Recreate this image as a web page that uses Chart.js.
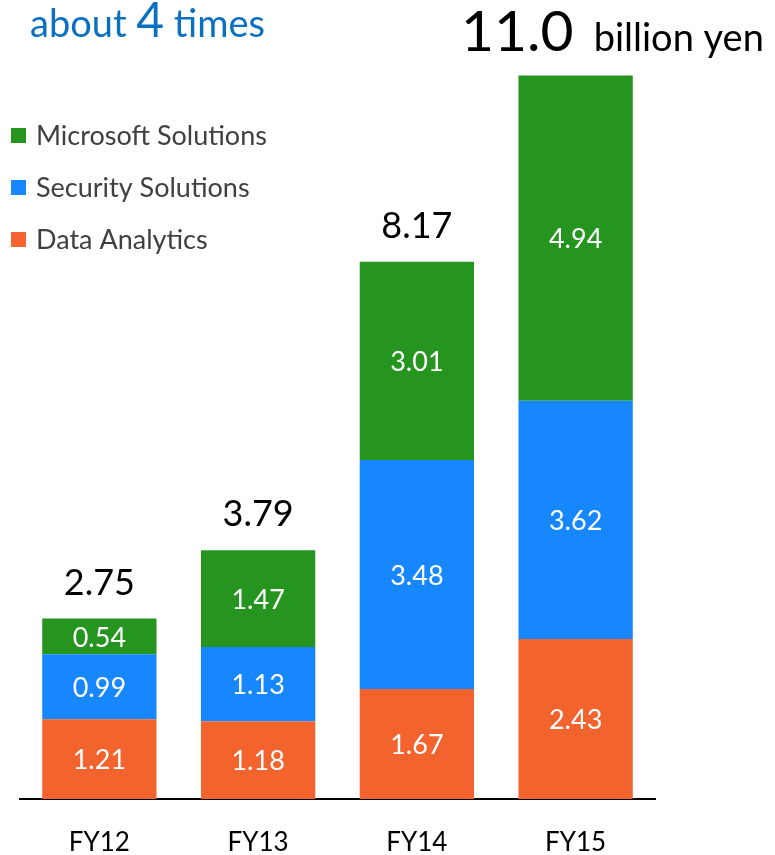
<!DOCTYPE html>
<html>
<head>
<meta charset="utf-8">
<script src="https://cdn.jsdelivr.net/npm/chart.js@4.4.0/dist/chart.umd.min.js"></script>
<style>
  html, body { margin: 0; padding: 0; background: #fff; }
  #wrap { width: 775px; height: 855px; }
</style>
</head>
<body>
<div id="wrap"><canvas id="salesChart" width="775" height="855"></canvas></div>
<script>
// sales by business, billion yen
var categories = ['FY12', 'FY13', 'FY14', 'FY15'];
var dataAnalytics = [1.21, 1.18, 1.67, 2.43];
var securitySolutions = [0.99, 1.13, 3.48, 3.62];
var microsoftSolutions = [0.54, 1.47, 3.01, 4.94];
var totalLabels = ['2.75', '3.79', '8.17', '11.0'];

var FONT = 'Lato, "Open Sans", sans-serif';

// white numbers inside each segment, totals above the stacks
var labelPlugin = {
    id: 'segmentLabels',
    afterDatasetsDraw: function(chart) {
        var ctx = chart.ctx;
        ctx.save();
        ctx.textAlign = 'center';
        ctx.textBaseline = 'alphabetic';
        chart.data.datasets.forEach(function(ds, i) {
            var meta = chart.getDatasetMeta(i);
            meta.data.forEach(function(bar, j) {
                var mid = (bar.y + bar.base) / 2;
                ctx.font = '27px ' + FONT;
                ctx.fillStyle = '#ffffff';
                ctx.fillText(ds.data[j].toFixed(2), bar.x, mid + 27 * 0.38);
            });
        });

        var top = chart.getDatasetMeta(chart.data.datasets.length - 1);
        top.data.forEach(function(bar, j) {
            var y = bar.y - 24;
            ctx.fillStyle = '#000000';
            if (j === top.data.length - 1) {
                ctx.textAlign = 'right';
                ctx.font = '57px ' + FONT;
                ctx.fillText(totalLabels[j], bar.x - 2, y);
                ctx.textAlign = 'left';
                ctx.font = '38px ' + FONT;
                ctx.fillText('billion yen', bar.x + 18, y);
                ctx.textAlign = 'center';
            } else {
                ctx.font = '36px ' + FONT;
                ctx.fillText(totalLabels[j], bar.x, y);
            }
        });
        ctx.restore();
    },
    afterDraw: function(chart) {
        var ctx = chart.ctx;
        ctx.save();

        // heading
        ctx.textBaseline = 'alphabetic';
        ctx.textAlign = 'left';
        ctx.fillStyle = '#0a70c0';
        var x = 30;
        ctx.font = '38px ' + FONT;
        ctx.fillText('about ', x, 37);
        x += ctx.measureText('about ').width;
        ctx.font = '48px ' + FONT;
        ctx.fillText('4', x, 37);
        x += ctx.measureText('4').width;
        ctx.font = '38px ' + FONT;
        ctx.fillText(' times', x, 37);

        // legend, top series first
        var sets = chart.data.datasets.slice().reverse();
        sets.forEach(function(ds, i) {
            var cy = 135.5 + i * 52;
            ctx.fillStyle = ds.backgroundColor;
            ctx.fillRect(11, cy - 7.5, 15, 15);
            ctx.fillStyle = '#404040';
            ctx.font = '27px ' + FONT;
            ctx.fillText(ds.label, 36, cy + 9);
        });
        ctx.restore();
    }
};

var ctx = document.getElementById('salesChart').getContext('2d');
var salesChart = new Chart(ctx, {
    type: 'bar',
    data: {
        labels: categories,
        datasets: [{
            label: 'Data Analytics',
            backgroundColor: '#f3632e',
            data: dataAnalytics
        }, {
            label: 'Security Solutions',
            backgroundColor: '#1787ff',
            data: securitySolutions
        }, {
            label: 'Microsoft Solutions',
            backgroundColor: '#25951f',
            data: microsoftSolutions
        }]
    },
    options: {
        responsive: false,
        animation: false,
        layout: {
            padding: { left: 20, right: 120, top: 9, bottom: 0 }
        },
        datasets: {
            bar: { categoryPercentage: 1, barPercentage: 0.72, borderWidth: 0 }
        },
        plugins: {
            legend: { display: false },
            tooltip: { enabled: false }
        },
        scales: {
            x: {
                stacked: true,
                grid: { display: false, drawTicks: false },
                border: { display: true, color: '#000000', width: 2 },
                ticks: {
                    color: '#000000',
                    padding: 28,
                    font: { family: FONT, size: 26 }
                },
                afterFit: function(scale) {
                    scale.height = 56;
                }
            },
            y: {
                stacked: true,
                display: false,
                min: 0,
                max: 12
            }
        }
    },
    plugins: [labelPlugin]
});
</script>
</body>
</html>
